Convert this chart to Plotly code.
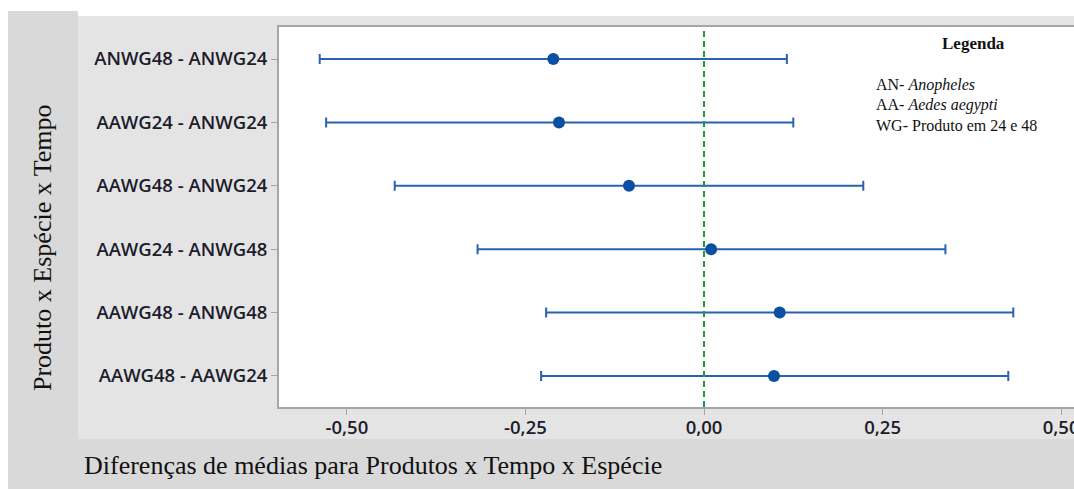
import plotly.graph_objects as go

# Data
comparisons = ["ANWG48 - ANWG24", "AAWG24 - ANWG24", "AAWG48 - ANWG24",
               "AAWG24 - ANWG48", "AAWG48 - ANWG48", "AAWG48 - AAWG24"]
mean_diff = [-0.211, -0.203, -0.105, 0.010, 0.106, 0.098]
ci_lower = [-0.538, -0.529, -0.433, -0.317, -0.221, -0.228]
ci_upper = [0.116, 0.125, 0.223, 0.338, 0.433, 0.426]
x_tickvals = [-0.50, -0.25, 0.00, 0.25, 0.50]
x_ticktext = ["-0,50", "-0,25", "0,00", "0,25", "0,50"]

W, H = 1074, 489
L, R, T, B = 279, 0, 27, 82
pw, ph = W - L - R, H - T - B

def px(x):
    return (x - L) / pw

def py(y):
    return (H - B - y) / ph

err_plus = [u - m for u, m in zip(ci_upper, mean_diff)]
err_minus = [m - l for m, l in zip(mean_diff, ci_lower)]

fig = go.Figure()
fig.add_trace(go.Scatter(
    x=mean_diff, y=comparisons, mode="markers",
    marker=dict(symbol="circle", size=12, color="#0a4fa2"),
    error_x=dict(type="data", array=err_plus, arrayminus=err_minus,
                 color="#2863b0", thickness=2, width=5),
    showlegend=False, hoverinfo="skip",
))

DARK = "#d9d9d9"
LIGHT = "#e4e4e4"
shapes = [
    dict(type="rect", xref="paper", yref="paper", x0=px(8), x1=px(W + 5), y0=py(H + 5), y1=py(11),
         fillcolor=DARK, line=dict(width=0), layer="below"),
    dict(type="rect", xref="paper", yref="paper", x0=px(78), x1=px(W + 5), y0=py(16), y1=py(-5),
         fillcolor="white", line=dict(width=0), layer="below"),
    dict(type="rect", xref="paper", yref="paper", x0=px(78), x1=px(W + 5), y0=py(439), y1=py(16),
         fillcolor=LIGHT, line=dict(width=0), layer="below"),
    dict(type="rect", xref="paper", yref="paper", x0=0, x1=1.01, y0=0, y1=1,
         fillcolor="white", line=dict(width=0), layer="below"),
    dict(type="line", xref="x", yref="paper", x0=0, x1=0, y0=0, y1=1,
         line=dict(color="#1a9a3a", width=2, dash="6px,4px"), layer="above"),
]

SERIF = "Liberation Serif"
annotations = [
    dict(text="Diferenças de médias para Produtos x Tempo x Espécie", xref="paper", yref="paper",
         x=px(82), y=py(465), xanchor="left", yanchor="middle", showarrow=False,
         font=dict(family=SERIF, size=26, color="#111111")),
    dict(text="Produto x Espécie x Tempo", xref="paper", yref="paper",
         x=px(43), y=py(248), xanchor="center", yanchor="middle", showarrow=False, textangle=-90,
         font=dict(family=SERIF, size=26, color="#111111")),
    dict(text="<b>Legenda</b>", xref="paper", yref="paper",
         x=px(973), y=py(43), xanchor="center", yanchor="middle", showarrow=False,
         font=dict(family=SERIF, size=17, color="#111111")),
    dict(text="AN- <i>Anopheles</i>", xref="paper", yref="paper",
         x=px(874), y=py(85), xanchor="left", yanchor="middle", showarrow=False,
         font=dict(family=SERIF, size=16, color="#111111")),
    dict(text="AA- <i>Aedes aegypti</i>", xref="paper", yref="paper",
         x=px(874), y=py(105), xanchor="left", yanchor="middle", showarrow=False,
         font=dict(family=SERIF, size=16, color="#111111")),
    dict(text="WG- Produto em 24 e 48", xref="paper", yref="paper",
         x=px(874), y=py(125), xanchor="left", yanchor="middle", showarrow=False,
         font=dict(family=SERIF, size=16, color="#111111")),
]

TICKFONT = dict(family="Open Sans", size=18.5, color="#1c1c2c", weight=600)
fig.update_layout(
    width=W, height=H,
    margin=dict(l=L, r=R, t=T, b=B, pad=0, autoexpand=False),
    paper_bgcolor="white", plot_bgcolor="white",
    shapes=shapes, annotations=annotations,
    xaxis=dict(range=[-0.595, 0.518], tickvals=x_tickvals, ticktext=x_ticktext,
               showgrid=False, zeroline=False, showline=True, linecolor="#a6a6a6", linewidth=2,
               mirror=True, ticks="outside", ticklen=6, tickcolor="#a6a6a6", tickwidth=1,
               tickfont=TICKFONT, ticklabeloverflow="allow", ticklabelstandoff=-3,
               automargin=False),
    yaxis=dict(type="category", categoryorder="array", categoryarray=comparisons,
               range=[5.49, -0.505], showgrid=False, zeroline=False, showline=True,
               linecolor="#a6a6a6", linewidth=2, ticks="outside", ticklen=6,
               tickcolor="#a6a6a6", tickwidth=1, tickfont=TICKFONT, automargin=False),
)

fig.write_html("out.html", config={"displayModeBar": False},
               post_script="document.body.style.margin='0';document.body.style.overflow='hidden';")
